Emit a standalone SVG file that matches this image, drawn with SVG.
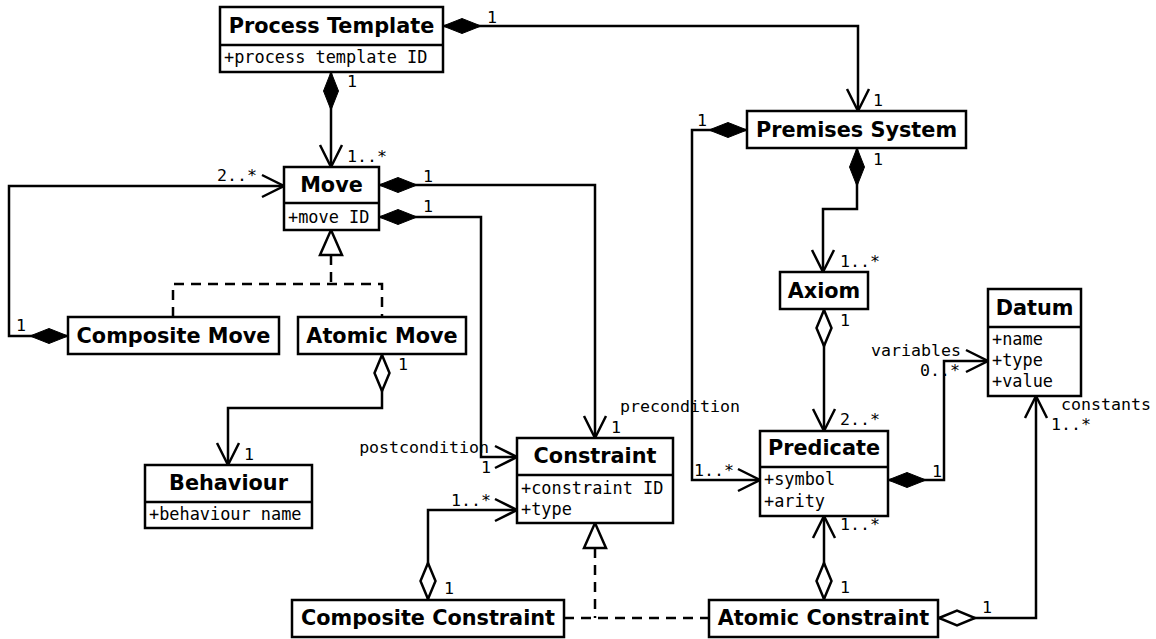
<svg xmlns="http://www.w3.org/2000/svg" width="1156" height="639" viewBox="0 0 1156 639">
<style>
.box{fill:#fff;stroke:#000;stroke-width:2.5}
.div{stroke:#000;stroke-width:2.5}
.t{font-family:"DejaVu Sans","Liberation Sans",sans-serif;font-weight:bold;font-size:20.8px;text-anchor:middle;fill:#000}
.a{font-family:"DejaVu Sans Mono","Liberation Mono",monospace;font-size:16.9px;fill:#000}
.l{font-family:"DejaVu Sans Mono","Liberation Mono",monospace;font-size:16.6px;fill:#000}
.e{text-anchor:end}
.c{fill:none;stroke:#000;stroke-width:2.5}
.fd{marker-start:url(#fdia);marker-end:url(#arr)}
.hd{marker-start:url(#hdia);marker-end:url(#arr)}
.d{fill:none;stroke:#000;stroke-width:2.5;stroke-dasharray:10,7}
.tri{fill:#fff;stroke:#000;stroke-width:2.5}
</style>
<defs>
<marker id="fdia" markerUnits="userSpaceOnUse" markerWidth="40" markerHeight="20" refX="0" refY="0" orient="auto" overflow="visible">
<path d="M0,0 L19,-7.5 L38,0 L19,7.5 Z" fill="#000" stroke="#000" stroke-width="1"/>
</marker>
<marker id="hdia" markerUnits="userSpaceOnUse" markerWidth="40" markerHeight="20" refX="0" refY="0" orient="auto" overflow="visible">
<path d="M1,0 L19,-7.5 L37,0 L19,7.5 Z" fill="#fff" stroke="#000" stroke-width="2.5"/>
</marker>
<marker id="arr" markerUnits="userSpaceOnUse" markerWidth="30" markerHeight="30" refX="0" refY="0" orient="auto" overflow="visible">
<path d="M-22,-11 L0,0 L-22,11" fill="none" stroke="#000" stroke-width="2.5"/>
</marker>
</defs>
<rect width="1156" height="639" fill="#fff"/>
<g id="connectors">
<path class="c fd" d="M443,26 H858 V111"/>
<path class="c fd" d="M331,72 V167"/>
<path class="c fd" d="M379,185 H595 V438"/>
<path class="c fd" d="M379,217 H481 V457 H517"/>
<path class="c fd" d="M68,336 H9 V186 H284"/>
<path class="c hd" d="M382,354 V408 H228 V465"/>
<path class="c hd" d="M428,600 V510 H517"/>
<path class="c fd" d="M747,130 H692 V480 H760"/>
<path class="c fd" d="M857,148 V209 H823 V272"/>
<path class="c hd" d="M824,309 V431"/>
<path class="c fd" d="M888,480 H944 V361 H988"/>
<path class="c hd" d="M824,600 V516"/>
<path class="c hd" d="M938,618 H1036 V396"/>
<path class="d" d="M331,255 V284"/>
<path class="d" d="M173,317 V284 H382 V317"/>
<polygon class="tri" points="331,230 342,255 320,255"/>
<path class="d" d="M595,548 V618"/>
<path class="d" d="M564,618 H709"/>
<polygon class="tri" points="595,523 606,548 584,548"/>
<text class="l" x="487" y="23">1</text>
<text class="l" x="873" y="106">1</text>
<text class="l" x="697" y="126">1</text>
<text class="l" x="873" y="165">1</text>
<text class="l" x="840" y="267">1..*</text>
<text class="l" x="840" y="326">1</text>
<text class="l" x="840" y="425">2..*</text>
<text class="l" x="694" y="476">1..*</text>
<text class="l" x="932" y="477">1</text>
<text class="l" x="840" y="530">1..*</text>
<text class="l" x="840" y="593">1</text>
<text class="l" x="982" y="613">1</text>
<text class="l" x="1061" y="410">constants</text>
<text class="l" x="1051" y="430">1..*</text>
<text class="l e" x="961" y="356">variables</text>
<text class="l e" x="960" y="376">0..*</text>
<text class="l" x="620" y="412">precondition</text>
<text class="l" x="611" y="433">1</text>
<text class="l e" x="489" y="453">postcondition</text>
<text class="l" x="481" y="473">1</text>
<text class="l" x="451" y="506">1..*</text>
<text class="l" x="444" y="594">1</text>
<text class="l" x="423" y="182">1</text>
<text class="l" x="423" y="212">1</text>
<text class="l" x="347" y="87">1</text>
<text class="l" x="347" y="162">1..*</text>
<text class="l" x="217" y="181">2..*</text>
<text class="l" x="16" y="331">1</text>
<text class="l" x="398" y="370">1</text>
<text class="l" x="244" y="460">1</text>
</g>
<g id="process-template">
<rect class="box" x="220" y="7" width="223" height="65"/>
<line class="div" x1="220" y1="45" x2="443" y2="45"/>
<text class="t" x="331.5" y="33">Process Template</text>
<text class="a" x="224" y="63">+process template ID</text>
</g>
<g id="premises-system">
<rect class="box" x="747" y="111" width="219" height="37"/>
<text class="t" x="856.5" y="137">Premises System</text>
</g>
<g id="move">
<rect class="box" x="284" y="167" width="95" height="63"/>
<line class="div" x1="284" y1="203" x2="379" y2="203"/>
<text class="t" x="331.5" y="192">Move</text>
<text class="a" x="288" y="223">+move ID</text>
</g>
<g id="composite-move">
<rect class="box" x="68" y="317" width="211" height="37"/>
<text class="t" x="173.5" y="343">Composite Move</text>
</g>
<g id="atomic-move">
<rect class="box" x="298" y="317" width="168" height="37"/>
<text class="t" x="382" y="343">Atomic Move</text>
</g>
<g id="behaviour">
<rect class="box" x="145" y="465" width="167" height="63"/>
<line class="div" x1="145" y1="502" x2="312" y2="502"/>
<text class="t" x="228.5" y="490">Behaviour</text>
<text class="a" x="149" y="520">+behaviour name</text>
</g>
<g id="constraint">
<rect class="box" x="517" y="438" width="156" height="85"/>
<line class="div" x1="517" y1="475" x2="673" y2="475"/>
<text class="t" x="595" y="463">Constraint</text>
<text class="a" x="521" y="494">+constraint ID</text>
<text class="a" x="521" y="515">+type</text>
</g>
<g id="axiom">
<rect class="box" x="780" y="272" width="88" height="37"/>
<text class="t" x="824" y="298">Axiom</text>
</g>
<g id="datum">
<rect class="box" x="988" y="289" width="93" height="107"/>
<line class="div" x1="988" y1="327" x2="1081" y2="327"/>
<text class="t" x="1034.5" y="315">Datum</text>
<text class="a" x="992" y="345">+name</text>
<text class="a" x="992" y="366">+type</text>
<text class="a" x="992" y="387">+value</text>
</g>
<g id="predicate">
<rect class="box" x="760" y="431" width="128" height="85"/>
<line class="div" x1="760" y1="467" x2="888" y2="467"/>
<text class="t" x="824" y="455">Predicate</text>
<text class="a" x="764" y="485">+symbol</text>
<text class="a" x="764" y="507">+arity</text>
</g>
<g id="composite-constraint">
<rect class="box" x="292" y="600" width="272" height="37"/>
<text class="t" x="428" y="625">Composite Constraint</text>
</g>
<g id="atomic-constraint">
<rect class="box" x="709" y="600" width="229" height="37"/>
<text class="t" x="823.5" y="625">Atomic Constraint</text>
</g>
</svg>
